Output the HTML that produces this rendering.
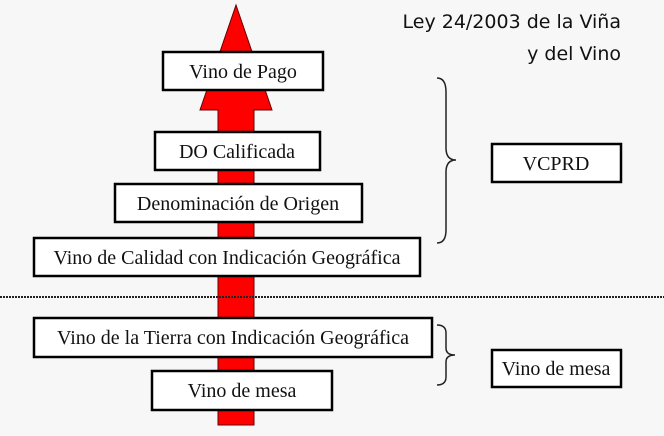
<!DOCTYPE html>
<html><head><meta charset="utf-8"><style>
html,body{margin:0;padding:0;background:#f7f7f7;}
svg{display:block;}
.b{fill:#fff;stroke:#000;stroke-width:2.5;}
.t{font-family:"Liberation Serif",serif;font-size:20px;fill:#111;text-anchor:middle;}
</style></head><body>
<svg width="664" height="436" viewBox="0 0 664 436">
<rect width="664" height="436" fill="#f7f7f7"/>
<polygon points="236,5 272,110 254,110 254,425 218,425 218,110 200,110" fill="#ff0000" stroke="#600" stroke-width="1"/>
<text x="621" y="28" font-family="DejaVu Sans,sans-serif" font-size="19" fill="#111" text-anchor="end">Ley 24/2003 de la Viña</text>
<text x="621" y="60" font-family="DejaVu Sans,sans-serif" font-size="19" fill="#111" text-anchor="end">y del Vino</text>
<rect class="b" x="163" y="52" width="160" height="38"/>
<text class="t" x="243" y="78">Vino de Pago</text>
<rect class="b" x="155" y="132" width="165" height="38"/>
<text class="t" x="237" y="158">DO Calificada</text>
<rect class="b" x="115" y="184" width="247" height="38"/>
<text class="t" x="238" y="210">Denominación de Origen</text>
<rect class="b" x="34" y="238" width="386" height="38"/>
<text class="t" x="227" y="264">Vino de Calidad con Indicación Geográfica</text>
<line x1="0" y1="297" x2="664" y2="297" stroke="#222" stroke-width="2" stroke-dasharray="2,1"/>
<rect class="b" x="34" y="318" width="398" height="39"/>
<text class="t" x="233" y="344">Vino de la Tierra con Indicación Geográfica</text>
<rect class="b" x="152" y="371" width="180" height="39"/>
<text class="t" x="242" y="397">Vino de mesa</text>
<path d="M437,78 Q446,78 446,92 L446,148 Q446,160 456,160 Q446,160 446,172 L446,230 Q446,243 437,243" fill="none" stroke="#222" stroke-width="1.5"/>
<path d="M437,325 Q446,325 446,333 L446,348 Q446,355 455,355 Q446,355 446,362 L446,377 Q446,385 437,385" fill="none" stroke="#222" stroke-width="1.5"/>
<rect class="b" x="492" y="144" width="129" height="38"/>
<text class="t" x="556" y="170">VCPRD</text>
<rect class="b" x="492" y="350" width="129" height="37"/>
<text class="t" x="556" y="375">Vino de mesa</text>
</svg>
</body></html>
